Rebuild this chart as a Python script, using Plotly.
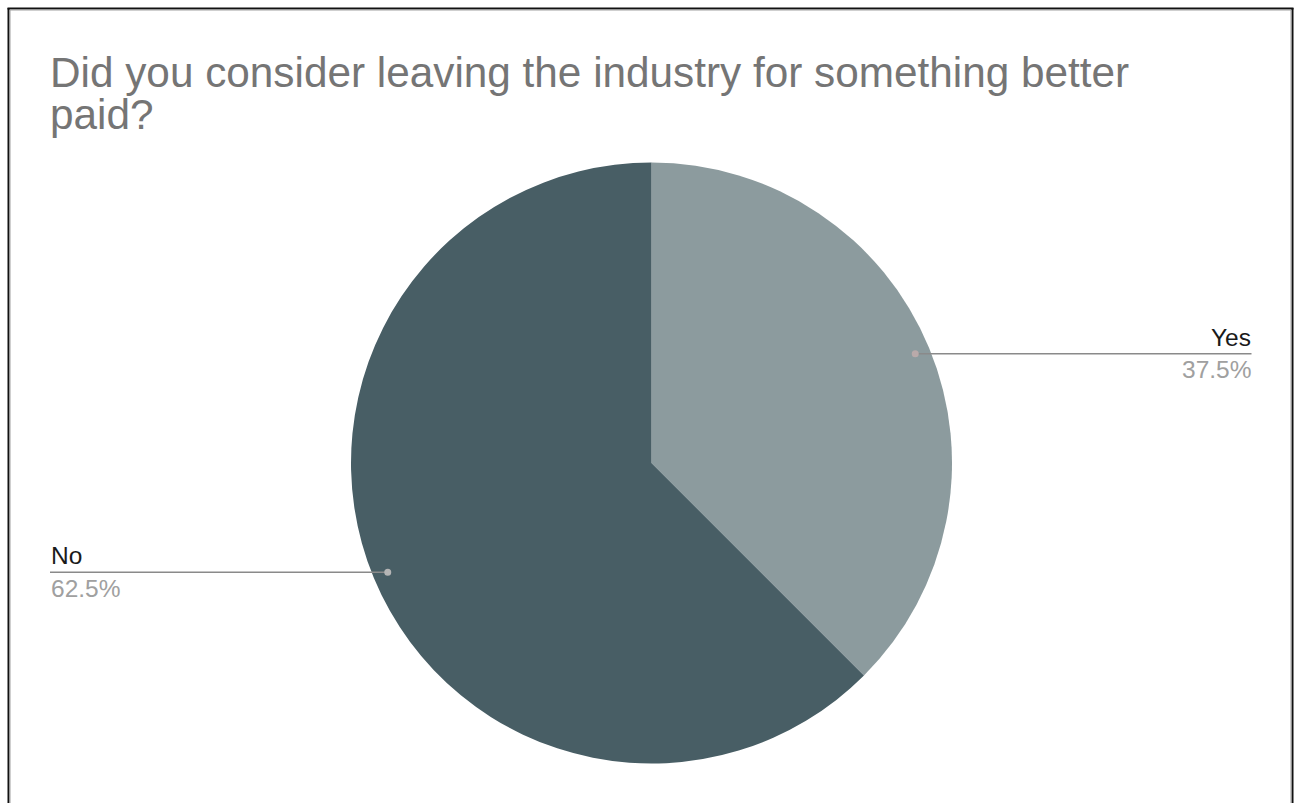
import math
import plotly.graph_objects as go

# ---- data ----
labels = ["Yes", "No"]
values = [37.5, 62.5]
colors = ["#8c9b9e", "#485e65"]
title_lines = ["Did you consider leaving the industry for something better", "paid?"]

W, H = 1297, 803
cx, cy, R = 651.5, 463, 300.5

def px(x):
    return x / W

def py(y):
    return 1 - y / H

fig = go.Figure()
fig.add_trace(go.Pie(
    labels=labels, values=values, sort=False, direction="clockwise", rotation=0,
    marker=dict(colors=colors, line=dict(width=0)), textinfo="none",
    hoverinfo="label+percent", showlegend=False,
    domain=dict(x=[px(cx - R), px(cx + R)], y=[py(cy + R), py(cy - R)]),
))

shapes = []
annotations = []

# frame
shapes.append(dict(type="line", xref="paper", yref="paper", x0=px(8.5), x1=px(8.5), y0=py(8), y1=py(810),
                   line=dict(color="#111111", width=2)))
shapes.append(dict(type="line", xref="paper", yref="paper", x0=px(10), x1=px(10), y0=py(10), y1=py(810),
                   line=dict(color="#a0a0a0", width=1)))
shapes.append(dict(type="line", xref="paper", yref="paper", x0=px(7.5), x1=px(1293.5), y0=py(8.5), y1=py(8.5),
                   line=dict(color="#111111", width=2)))
shapes.append(dict(type="line", xref="paper", yref="paper", x0=px(10), x1=px(1291), y0=py(10), y1=py(10),
                   line=dict(color="#a0a0a0", width=1)))
shapes.append(dict(type="line", xref="paper", yref="paper", x0=px(1292.5), x1=px(1292.5), y0=py(8), y1=py(810),
                   line=dict(color="#111111", width=2)))
shapes.append(dict(type="line", xref="paper", yref="paper", x0=px(1291), x1=px(1291), y0=py(10), y1=py(810),
                   line=dict(color="#a0a0a0", width=1)))

# leader lines & labels computed from slice geometry
total = sum(values)
cum = 0
label_x = {"right": 1251.5, "left": 50}
for lab, v in zip(labels, values):
    mid = 2 * math.pi * (cum + v / 2) / total
    cum += v
    dx = 0.95 * R * math.sin(mid)
    dy = -0.95 * R * math.cos(mid)
    x0, y0 = cx + dx, cy + dy
    side = "right" if dx > 0 else "left"
    xe = label_x[side]
    shapes.append(dict(type="line", xref="paper", yref="paper", x0=px(x0), x1=px(xe), y0=py(y0), y1=py(y0),
                       line=dict(color="#8a8a8a", width=1.6)))
    shapes.append(dict(type="circle", xref="paper", yref="paper", x0=px(x0 - 3.5), x1=px(x0 + 3.5),
                       y0=py(y0 + 3.5), y1=py(y0 - 3.5), line=dict(width=0),
                       fillcolor="#b5b5b5" if side == "left" else "#b9aaaa"))
    anchor = "right" if side == "right" else "left"
    annotations.append(dict(xref="paper", yref="paper", x=px(xe + (1 if side == "right" else -1)), y=py(y0 - 1),
                            text=lab, showarrow=False, xanchor=anchor, yanchor="bottom",
                            font=dict(family="Liberation Sans, Arial", size=24.5, color="#1a1a1a")))
    annotations.append(dict(xref="paper", yref="paper", x=px(xe + (1 if side == "right" else -1)), y=py(y0 + 0.5),
                            text=f"{v/total*100:.1f}%", showarrow=False, xanchor=anchor, yanchor="top",
                            font=dict(family="Liberation Sans, Arial", size=24.5, color="#a0a0a0")))

# title (two lines, tight spacing as in the reference)
for i, t in enumerate(title_lines):
    annotations.append(dict(xref="paper", yref="paper", x=px(48), y=py(72 + 42 * i), text=t,
                            showarrow=False, xanchor="left", yanchor="middle",
                            font=dict(family="Liberation Sans, Arial", size=42.3, color="#757575")))

fig.update_layout(
    width=W, height=H, margin=dict(l=0, r=0, t=0, b=0),
    paper_bgcolor="white", plot_bgcolor="white",
    shapes=shapes, annotations=annotations,
)

fig.write_html("out.html")
